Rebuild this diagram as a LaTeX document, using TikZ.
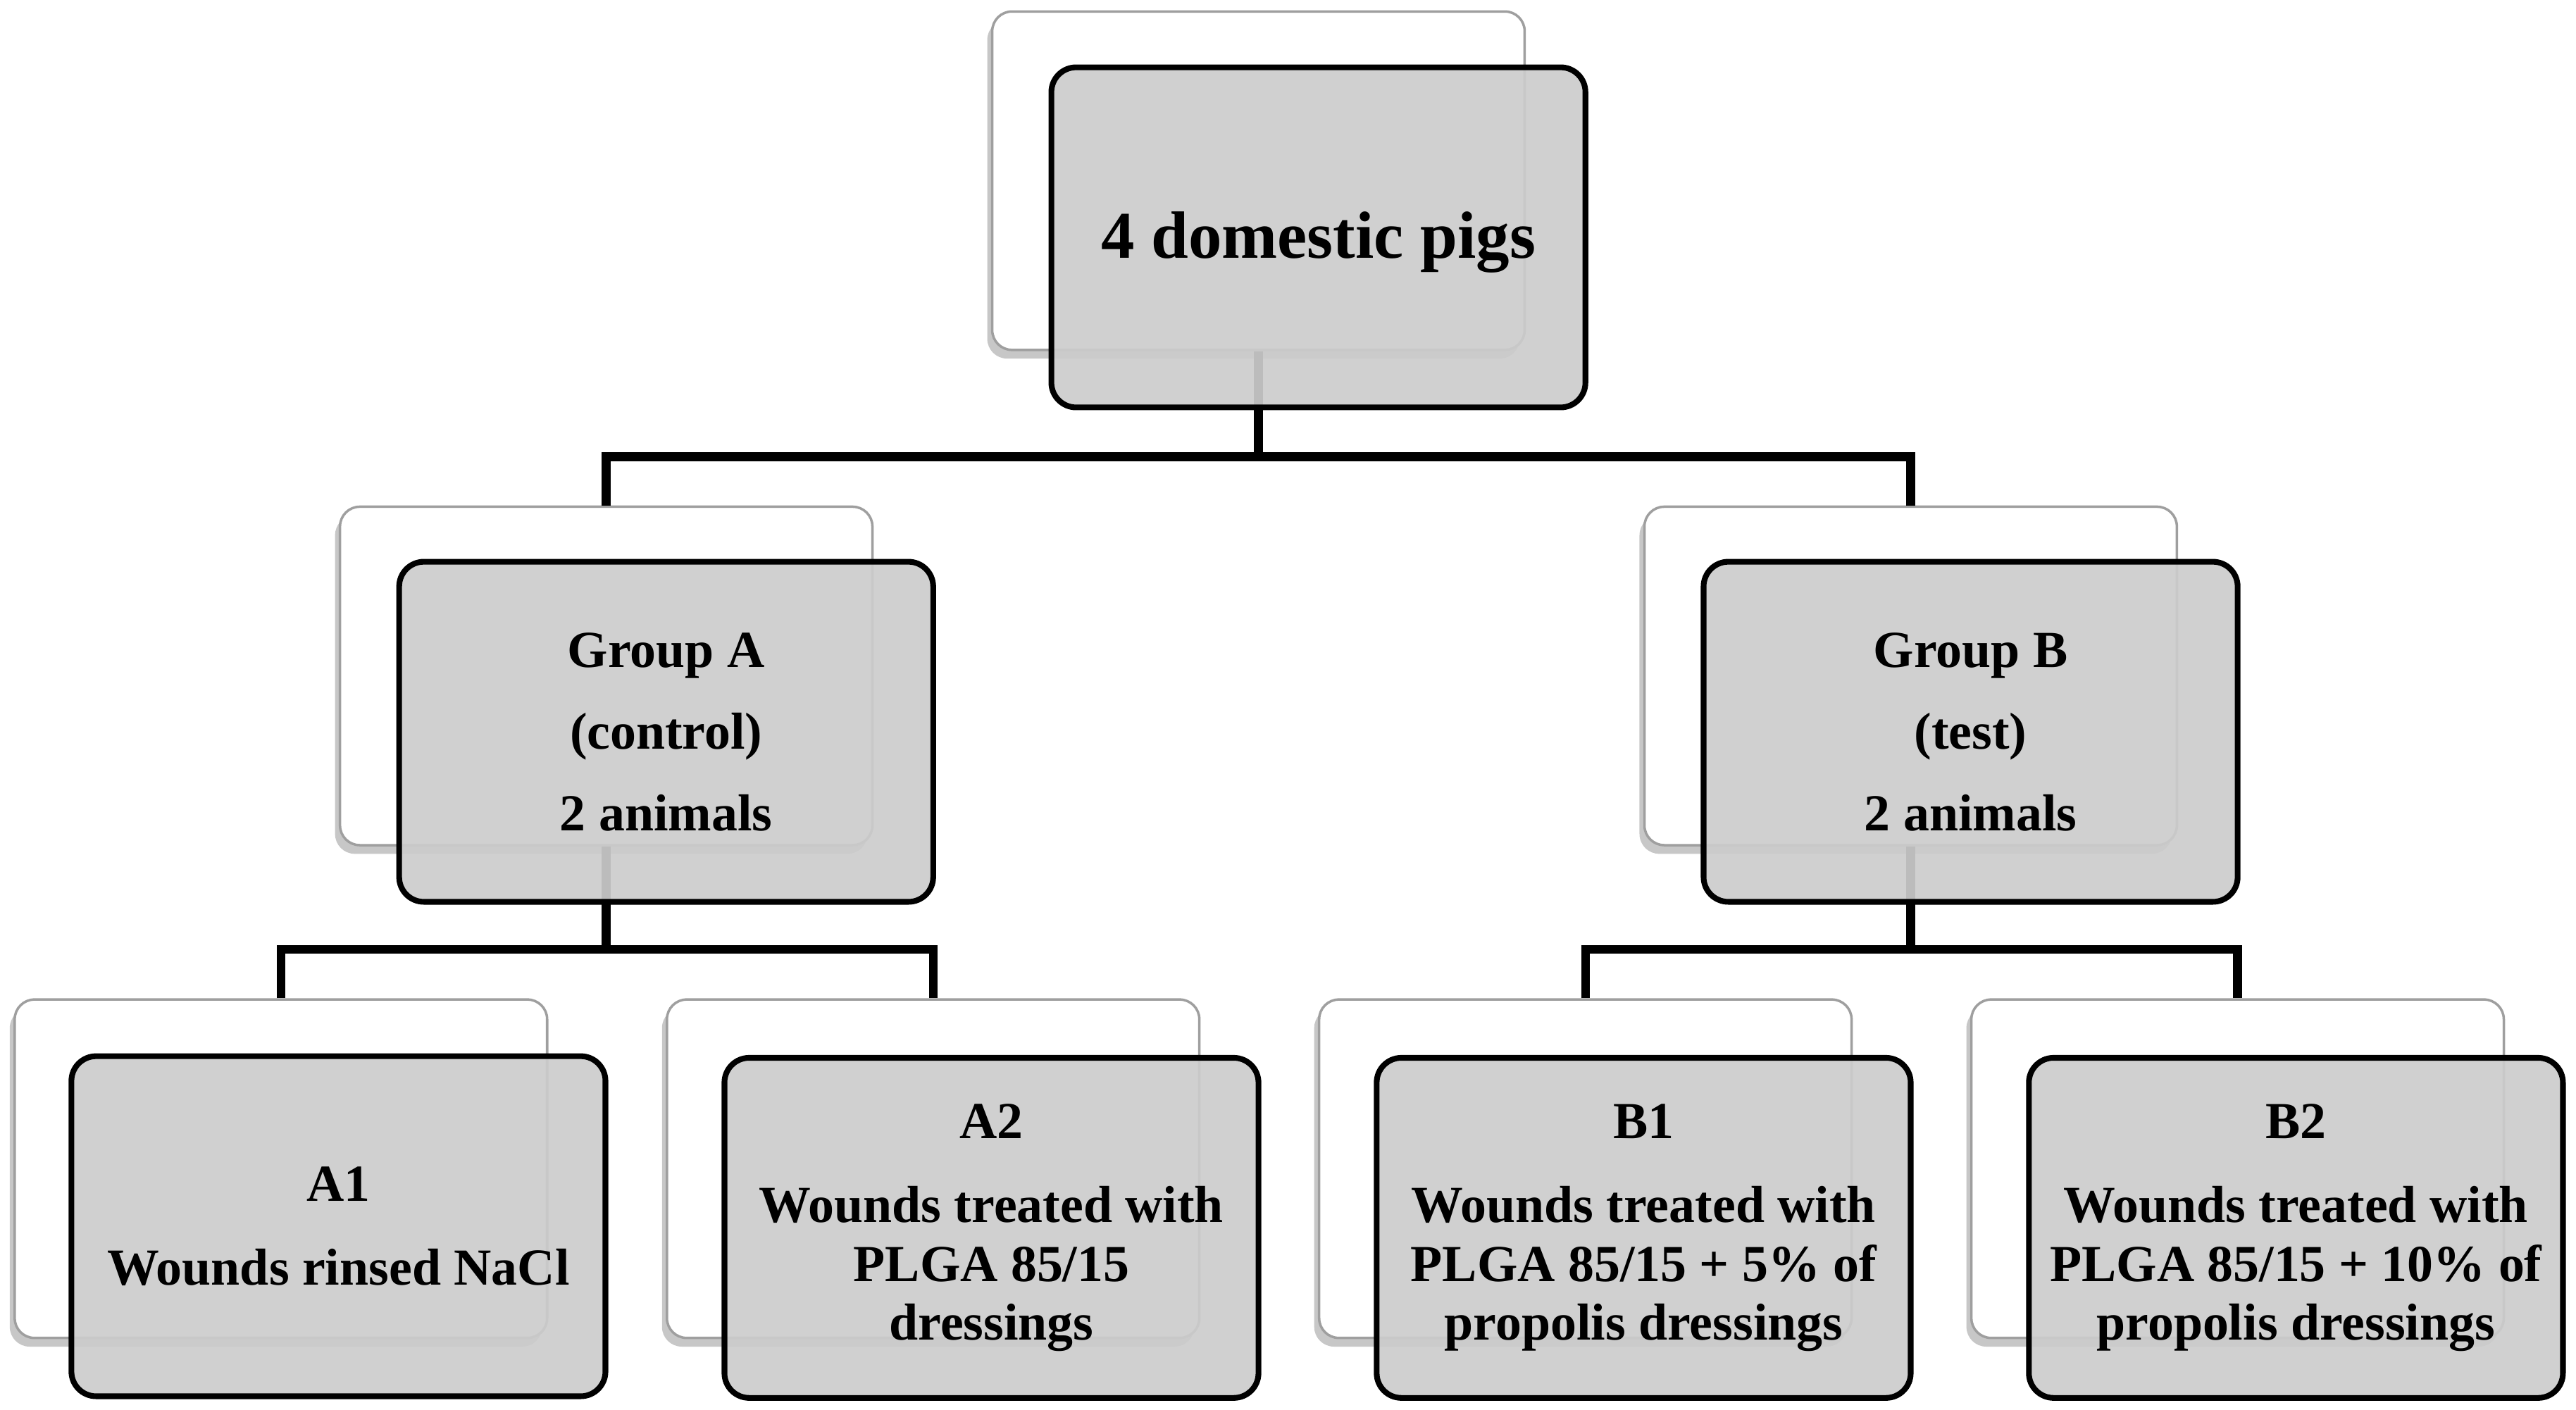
\documentclass[tikz,border=0pt]{standalone}
\usepackage{fontspec}
\setmainfont{Liberation Serif}
\usetikzlibrary{shadows}
\begin{document}
\begin{tikzpicture}[x=0.02332cm, y=-0.02332cm,
  backbox/.style={rectangle, rounded corners=8pt, draw=gray!75, line width=1pt,
    fill=white, minimum width=7.556cm, minimum height=4.804cm, inner sep=0pt,
    drop shadow={shadow xshift=-2pt, shadow yshift=-3.5pt, opacity=0.22, fill=black}},
  frontbox/.style={rectangle, rounded corners=10pt, draw=black, line width=2.3pt,
    fill={rgb,255:red,204;green,204;blue,204}, fill opacity=0.92, text opacity=1,
    minimum width=7.579cm, minimum height=4.827cm, inner sep=0pt, align=center,
    font=\bfseries\fontsize{21pt}{23.8pt}\selectfont},
  conn/.style={draw=black, line width=3.5pt}]
\useasboundingbox (0,0) rectangle (1568,858);

% back boxes
\node[backbox] (topb) at (766,110) {};
\node[backbox] (gab) at (369,411.5) {};
\node[backbox] (gbb) at (1163,411.5) {};
\node[backbox] (a1b) at (171,711.5) {};
\node[backbox] (a2b) at (568,711.5) {};
\node[backbox] (b1b) at (965,711.5) {};
\node[backbox] (b2b) at (1362,711.5) {};

% connectors
\coordinate (bus0) at (766,278);
\coordinate (busA) at (369,578);
\coordinate (busB) at (1163,578);
\draw[conn] (topb.south) -- (bus0);
\draw[conn] (gab.north) |- (bus0) -| (gbb.north);
\draw[conn] (gab.south) -- (busA);
\draw[conn] (a1b.north) |- (busA) -| (a2b.north);
\draw[conn] (gbb.south) -- (busB);
\draw[conn] (b1b.north) |- (busB) -| (b2b.north);

% front boxes
\node[frontbox] (topf) at (802.5,144.5) {};
\node[font=\bfseries\fontsize{27pt}{32pt}\selectfont, inner sep=0pt] (toptext) at (802.5,147.5) {4 domestic pigs};
\node[frontbox] (gaf) at (405.5,445.5) {Group A\\[9.2pt](control)\\[9.2pt]2 animals};
\node[frontbox] (gbf) at (1199.5,445.5) {Group B\\[9.2pt](test)\\[9.2pt]2 animals};
\node[frontbox] (a1f) at (206,746.5) {A1\\[10pt]Wounds rinsed NaCl};
\node[frontbox] (a2f) at (603.5,747.5) {A2\\[10pt]Wounds treated with\\PLGA 85/15\\dressings};
\node[frontbox] (b1f) at (1000.5,747.5) {B1\\[10pt]Wounds treated with\\PLGA 85/15 + 5\% of\\propolis dressings};
\node[frontbox] (b2f) at (1397.5,747.5) {B2\\[10pt]Wounds treated with\\PLGA 85/15 + 10\% of\\propolis dressings};
\end{tikzpicture}
\end{document}
